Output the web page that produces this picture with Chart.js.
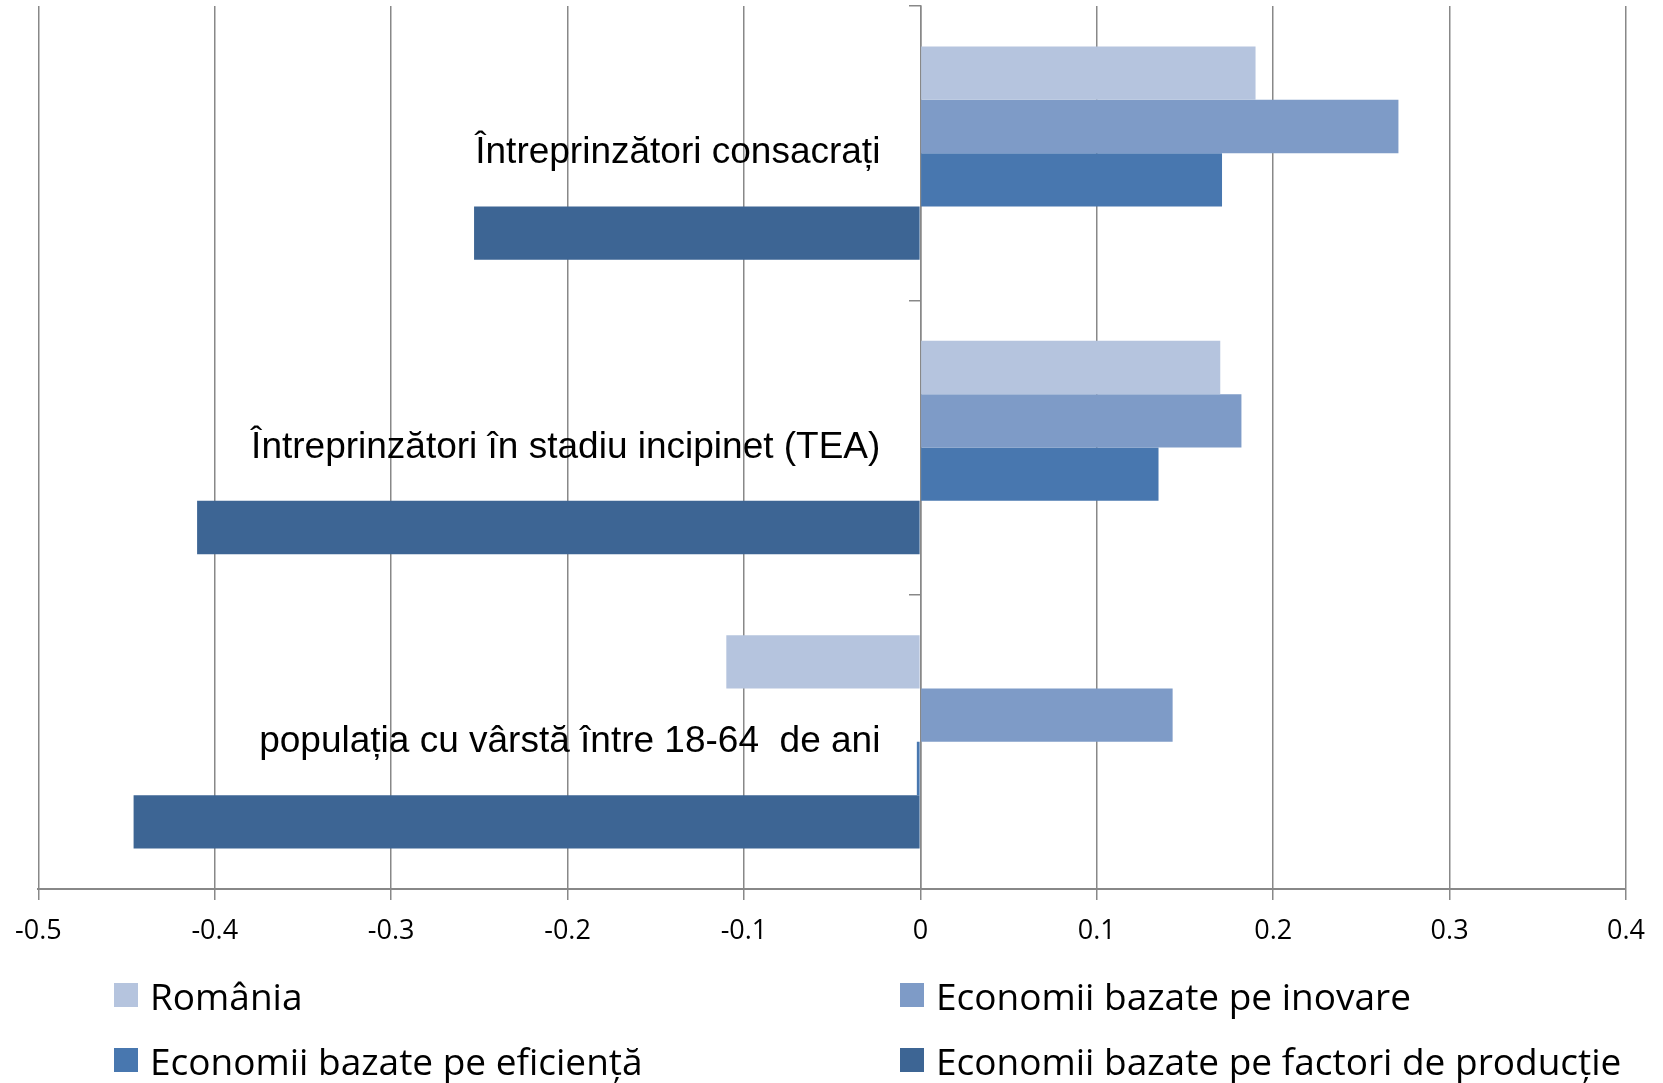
<!DOCTYPE html>
<html><head><meta charset="utf-8">
<script src="https://cdn.jsdelivr.net/npm/chart.js@4"></script>
<style>
html,body{margin:0;padding:0;background:#fff;}
#wrap{position:relative;width:1663px;height:1083px;}
#legend .item{position:absolute;height:40px;display:flex;align-items:center;font-family:'Open Sans',Lato,sans-serif;font-size:37px;color:#000;white-space:nowrap;}
#legend .box{width:24px;height:24px;margin-right:12px;flex:none;}
</style></head><body>
<div id="wrap"><canvas id="c" width="1663" height="1083"></canvas><div id="legend"></div></div>
<script>
const categories = [
  "Întreprinzători consacrați",
  "Întreprinzători în stadiu incipinet (TEA)",
  "populația cu vârstă între 18-64  de ani"
];
const seriesNames = [
  "România",
  "Economii bazate pe inovare",
  "Economii bazate pe eficiență",
  "Economii bazate pe factori de producție"
];
const romania   = [0.190, 0.170, -0.110];
const inovare   = [0.271, 0.182, 0.143];
const eficienta = [0.171, 0.135, -0.002];
const factori   = [-0.253, -0.410, -0.446];
const xTickLabels = ["-0.5","-0.4","-0.3","-0.2","-0.1","0","0.1","0.2","0.3","0.4"];

const colors = ["#B5C4DE", "#7E9BC7", "#4877AF", "#3D6594"];
const seriesValues = [romania, inovare, eficienta, factori];
const gridColor = "#888888";
const catFont = "37px 'Liberation Sans', Arial, sans-serif";

// Draws the category names inside the plot, right-aligned left of the zero axis
const categoryLabelPlugin = {
  id: "categoryLabels",
  afterDraw(chart) {
    const ctx = chart.ctx;
    const xs = chart.scales.x, ys = chart.scales.y;
    const xRight = xs.getPixelForValue(0) - 40;
    ctx.save();
    ctx.font = catFont;
    ctx.fillStyle = "#000";
    ctx.textAlign = "right";
    ctx.textBaseline = "middle";
    chart.data.labels.forEach((lab, i) => {
      ctx.fillText(lab, xRight, ys.getPixelForValue(i));
    });
    ctx.restore();
  }
};

const chart = new Chart(document.getElementById("c"), {
  type: "bar",
  data: {
    labels: categories,
    datasets: seriesNames.map((name, i) => ({
      label: name,
      data: seriesValues[i],
      backgroundColor: colors[i],
      borderWidth: 0,
      categoryPercentage: 0.725,
      barPercentage: 1.0
    }))
  },
  plugins: [categoryLabelPlugin],
  options: {
    indexAxis: "y",
    responsive: false,
    animation: false,
    devicePixelRatio: 1,
    layout: { padding: { left: 38, right: 37, top: 6, bottom: 134 } },
    plugins: { legend: { display: false }, tooltip: { enabled: false } },
    scales: {
      x: {
        type: "linear",
        min: -0.5, max: 0.4,
        afterFit: (s) => { s.height = 60; },
        ticks: {
          stepSize: 0.1,
          padding: 15,
          color: "#000",
          font: { family: "'Open Sans', Lato, sans-serif", size: 27 },
          maxRotation: 0,
          callback: (v, i) => xTickLabels[i] !== undefined ? xTickLabels[i] : String(Math.round(v * 10) / 10)
        },
        grid: { color: gridColor, lineWidth: 1.5, tickLength: 11, drawTicks: true },
        border: { display: true, color: gridColor, width: 2 }
      },
      y: {
        type: "category",
        position: { x: 0 },
        offset: true,
        afterFit: (s) => { s.paddingTop = 0; s.paddingBottom = 0; s.width = 0; },
        ticks: { display: false },
        grid: { offset: true, drawOnChartArea: false, drawTicks: true, tickLength: 11, color: gridColor, lineWidth: 1.5 },
        border: { display: true, color: gridColor, width: 1.5 }
      }
    }
  }
});

// HTML legend from the chart's datasets
const legendCols = [114, 900];
const legendRows = [995, 1060];
const leg = document.getElementById("legend");
chart.data.datasets.forEach((ds, i) => {
  const item = document.createElement("div");
  item.className = "item";
  item.style.left = legendCols[i % 2] + "px";
  item.style.top = (legendRows[Math.floor(i / 2)] - 20) + "px";
  const box = document.createElement("span");
  box.className = "box";
  box.style.background = ds.backgroundColor;
  const txt = document.createElement("span");
  txt.textContent = ds.label;
  item.appendChild(box);
  item.appendChild(txt);
  leg.appendChild(item);
});
</script>
</body></html>
